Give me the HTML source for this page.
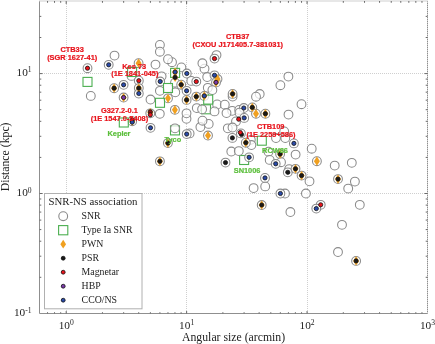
<!DOCTYPE html><html><head><meta charset="utf-8"><style>html,body{margin:0;padding:0;background:#fff;}svg{display:block;will-change:transform;}</style></head><body><svg width="435" height="344" viewBox="0 0 435 344">
<rect width="435" height="344" fill="#fff"/>
<line x1="66.5" y1="2" x2="66.5" y2="313" stroke="#cfcfcf" stroke-width="1" stroke-dasharray="1 1"/>
<line x1="186.5" y1="2" x2="186.5" y2="313" stroke="#cfcfcf" stroke-width="1" stroke-dasharray="1 1"/>
<line x1="307.5" y1="2" x2="307.5" y2="313" stroke="#cfcfcf" stroke-width="1" stroke-dasharray="1 1"/>
<line x1="40" y1="73.5" x2="427" y2="73.5" stroke="#cfcfcf" stroke-width="1" stroke-dasharray="1 1"/>
<line x1="40" y1="193.5" x2="427" y2="193.5" stroke="#cfcfcf" stroke-width="1" stroke-dasharray="1 1"/>
<rect x="170.50" y="125.90" width="9.0" height="9.0" fill="#fff" fill-opacity="0.7" stroke="#4caf50" stroke-width="1.1"/>
<rect x="201.50" y="104.80" width="9.0" height="9.0" fill="#fff" fill-opacity="0.7" stroke="#4caf50" stroke-width="1.1"/>
<rect x="239.60" y="155.50" width="9.0" height="9.0" fill="#fff" fill-opacity="0.7" stroke="#4caf50" stroke-width="1.1"/>
<circle cx="87.50" cy="68.20" r="4.4" fill="#fff" fill-opacity="0.7" stroke="#8a8a8a" stroke-width="1.05"/>
<circle cx="114.50" cy="55.60" r="4.4" fill="#fff" fill-opacity="0.7" stroke="#8a8a8a" stroke-width="1.05"/>
<circle cx="108.70" cy="64.80" r="4.4" fill="#fff" fill-opacity="0.7" stroke="#8a8a8a" stroke-width="1.05"/>
<circle cx="138.60" cy="63.20" r="4.4" fill="#fff" fill-opacity="0.7" stroke="#8a8a8a" stroke-width="1.05"/>
<circle cx="155.50" cy="64.60" r="4.4" fill="#fff" fill-opacity="0.7" stroke="#8a8a8a" stroke-width="1.05"/>
<circle cx="114.10" cy="88.20" r="4.4" fill="#fff" fill-opacity="0.7" stroke="#8a8a8a" stroke-width="1.05"/>
<circle cx="123.60" cy="84.80" r="4.4" fill="#fff" fill-opacity="0.7" stroke="#8a8a8a" stroke-width="1.05"/>
<circle cx="123.60" cy="97.50" r="4.4" fill="#fff" fill-opacity="0.7" stroke="#8a8a8a" stroke-width="1.05"/>
<circle cx="90.80" cy="95.90" r="4.4" fill="#fff" fill-opacity="0.7" stroke="#8a8a8a" stroke-width="1.05"/>
<circle cx="131.50" cy="75.90" r="4.4" fill="#fff" fill-opacity="0.7" stroke="#8a8a8a" stroke-width="1.05"/>
<circle cx="138.80" cy="80.70" r="4.4" fill="#fff" fill-opacity="0.7" stroke="#8a8a8a" stroke-width="1.05"/>
<circle cx="138.80" cy="88.10" r="4.4" fill="#fff" fill-opacity="0.7" stroke="#8a8a8a" stroke-width="1.05"/>
<circle cx="138.80" cy="93.50" r="4.4" fill="#fff" fill-opacity="0.7" stroke="#8a8a8a" stroke-width="1.05"/>
<circle cx="150.50" cy="99.50" r="4.4" fill="#fff" fill-opacity="0.7" stroke="#8a8a8a" stroke-width="1.05"/>
<circle cx="150.30" cy="113.30" r="4.4" fill="#fff" fill-opacity="0.7" stroke="#8a8a8a" stroke-width="1.05"/>
<circle cx="132.20" cy="121.20" r="4.4" fill="#fff" fill-opacity="0.7" stroke="#8a8a8a" stroke-width="1.05"/>
<circle cx="150.50" cy="127.80" r="4.4" fill="#fff" fill-opacity="0.7" stroke="#8a8a8a" stroke-width="1.05"/>
<circle cx="159.90" cy="44.90" r="4.4" fill="#fff" fill-opacity="0.7" stroke="#8a8a8a" stroke-width="1.05"/>
<circle cx="159.90" cy="51.70" r="4.4" fill="#fff" fill-opacity="0.7" stroke="#8a8a8a" stroke-width="1.05"/>
<circle cx="172.00" cy="62.20" r="4.4" fill="#fff" fill-opacity="0.7" stroke="#8a8a8a" stroke-width="1.05"/>
<circle cx="168.00" cy="59.20" r="4.4" fill="#fff" fill-opacity="0.7" stroke="#8a8a8a" stroke-width="1.05"/>
<circle cx="181.40" cy="67.40" r="4.4" fill="#fff" fill-opacity="0.7" stroke="#8a8a8a" stroke-width="1.05"/>
<circle cx="186.80" cy="73.50" r="4.4" fill="#fff" fill-opacity="0.7" stroke="#8a8a8a" stroke-width="1.05"/>
<circle cx="161.60" cy="76.30" r="4.4" fill="#fff" fill-opacity="0.7" stroke="#8a8a8a" stroke-width="1.05"/>
<circle cx="160.20" cy="81.50" r="4.4" fill="#fff" fill-opacity="0.7" stroke="#8a8a8a" stroke-width="1.05"/>
<circle cx="175.00" cy="82.70" r="4.4" fill="#fff" fill-opacity="0.7" stroke="#8a8a8a" stroke-width="1.05"/>
<circle cx="181.20" cy="84.70" r="4.4" fill="#fff" fill-opacity="0.7" stroke="#8a8a8a" stroke-width="1.05"/>
<circle cx="191.30" cy="80.90" r="4.4" fill="#fff" fill-opacity="0.7" stroke="#8a8a8a" stroke-width="1.05"/>
<circle cx="196.30" cy="81.60" r="4.4" fill="#fff" fill-opacity="0.7" stroke="#8a8a8a" stroke-width="1.05"/>
<circle cx="159.90" cy="90.80" r="4.4" fill="#fff" fill-opacity="0.7" stroke="#8a8a8a" stroke-width="1.05"/>
<circle cx="175.30" cy="92.30" r="4.4" fill="#fff" fill-opacity="0.7" stroke="#8a8a8a" stroke-width="1.05"/>
<circle cx="186.60" cy="90.80" r="4.4" fill="#fff" fill-opacity="0.7" stroke="#8a8a8a" stroke-width="1.05"/>
<circle cx="196.30" cy="96.60" r="4.4" fill="#fff" fill-opacity="0.7" stroke="#8a8a8a" stroke-width="1.05"/>
<circle cx="168.00" cy="98.30" r="4.4" fill="#fff" fill-opacity="0.7" stroke="#8a8a8a" stroke-width="1.05"/>
<circle cx="186.60" cy="99.90" r="4.4" fill="#fff" fill-opacity="0.7" stroke="#8a8a8a" stroke-width="1.05"/>
<circle cx="174.90" cy="109.80" r="4.4" fill="#fff" fill-opacity="0.7" stroke="#8a8a8a" stroke-width="1.05"/>
<circle cx="159.80" cy="113.80" r="4.4" fill="#fff" fill-opacity="0.7" stroke="#8a8a8a" stroke-width="1.05"/>
<circle cx="186.50" cy="118.80" r="4.4" fill="#fff" fill-opacity="0.7" stroke="#8a8a8a" stroke-width="1.05"/>
<circle cx="186.50" cy="113.30" r="4.4" fill="#fff" fill-opacity="0.7" stroke="#8a8a8a" stroke-width="1.05"/>
<circle cx="175.00" cy="128.30" r="4.4" fill="#fff" fill-opacity="0.7" stroke="#8a8a8a" stroke-width="1.05"/>
<circle cx="189.60" cy="133.40" r="4.4" fill="#fff" fill-opacity="0.7" stroke="#8a8a8a" stroke-width="1.05"/>
<circle cx="186.70" cy="134.10" r="4.4" fill="#fff" fill-opacity="0.7" stroke="#8a8a8a" stroke-width="1.05"/>
<circle cx="167.90" cy="143.10" r="4.4" fill="#fff" fill-opacity="0.7" stroke="#8a8a8a" stroke-width="1.05"/>
<circle cx="159.90" cy="161.30" r="4.4" fill="#fff" fill-opacity="0.7" stroke="#8a8a8a" stroke-width="1.05"/>
<circle cx="216.50" cy="55.10" r="4.4" fill="#fff" fill-opacity="0.7" stroke="#8a8a8a" stroke-width="1.05"/>
<circle cx="214.50" cy="58.60" r="4.4" fill="#fff" fill-opacity="0.7" stroke="#8a8a8a" stroke-width="1.05"/>
<circle cx="204.50" cy="68.70" r="4.4" fill="#fff" fill-opacity="0.7" stroke="#8a8a8a" stroke-width="1.05"/>
<circle cx="202.40" cy="63.30" r="4.4" fill="#fff" fill-opacity="0.7" stroke="#8a8a8a" stroke-width="1.05"/>
<circle cx="207.20" cy="77.00" r="4.4" fill="#fff" fill-opacity="0.7" stroke="#8a8a8a" stroke-width="1.05"/>
<circle cx="217.50" cy="79.00" r="4.4" fill="#fff" fill-opacity="0.7" stroke="#8a8a8a" stroke-width="1.05"/>
<circle cx="214.50" cy="75.30" r="4.4" fill="#fff" fill-opacity="0.7" stroke="#8a8a8a" stroke-width="1.05"/>
<circle cx="216.00" cy="82.40" r="4.4" fill="#fff" fill-opacity="0.7" stroke="#8a8a8a" stroke-width="1.05"/>
<circle cx="207.80" cy="87.80" r="4.4" fill="#fff" fill-opacity="0.7" stroke="#8a8a8a" stroke-width="1.05"/>
<circle cx="212.40" cy="90.10" r="4.4" fill="#fff" fill-opacity="0.7" stroke="#8a8a8a" stroke-width="1.05"/>
<circle cx="204.30" cy="95.90" r="4.4" fill="#fff" fill-opacity="0.7" stroke="#8a8a8a" stroke-width="1.05"/>
<circle cx="232.60" cy="96.60" r="4.4" fill="#fff" fill-opacity="0.7" stroke="#8a8a8a" stroke-width="1.05"/>
<circle cx="232.60" cy="93.90" r="4.4" fill="#fff" fill-opacity="0.7" stroke="#8a8a8a" stroke-width="1.05"/>
<circle cx="217.10" cy="104.40" r="4.4" fill="#fff" fill-opacity="0.7" stroke="#8a8a8a" stroke-width="1.05"/>
<circle cx="224.80" cy="104.70" r="4.4" fill="#fff" fill-opacity="0.7" stroke="#8a8a8a" stroke-width="1.05"/>
<circle cx="232.20" cy="110.80" r="4.4" fill="#fff" fill-opacity="0.7" stroke="#8a8a8a" stroke-width="1.05"/>
<circle cx="239.20" cy="109.90" r="4.4" fill="#fff" fill-opacity="0.7" stroke="#8a8a8a" stroke-width="1.05"/>
<circle cx="196.80" cy="108.10" r="4.4" fill="#fff" fill-opacity="0.7" stroke="#8a8a8a" stroke-width="1.05"/>
<circle cx="202.10" cy="109.30" r="4.4" fill="#fff" fill-opacity="0.7" stroke="#8a8a8a" stroke-width="1.05"/>
<circle cx="214.50" cy="111.40" r="4.4" fill="#fff" fill-opacity="0.7" stroke="#8a8a8a" stroke-width="1.05"/>
<circle cx="226.50" cy="113.00" r="4.4" fill="#fff" fill-opacity="0.7" stroke="#8a8a8a" stroke-width="1.05"/>
<circle cx="243.80" cy="108.00" r="4.4" fill="#fff" fill-opacity="0.7" stroke="#8a8a8a" stroke-width="1.05"/>
<circle cx="208.70" cy="123.90" r="4.4" fill="#fff" fill-opacity="0.7" stroke="#8a8a8a" stroke-width="1.05"/>
<circle cx="200.40" cy="127.00" r="4.4" fill="#fff" fill-opacity="0.7" stroke="#8a8a8a" stroke-width="1.05"/>
<circle cx="202.50" cy="120.70" r="4.4" fill="#fff" fill-opacity="0.7" stroke="#8a8a8a" stroke-width="1.05"/>
<circle cx="208.00" cy="135.50" r="4.4" fill="#fff" fill-opacity="0.7" stroke="#8a8a8a" stroke-width="1.05"/>
<circle cx="259.70" cy="94.00" r="4.4" fill="#fff" fill-opacity="0.7" stroke="#8a8a8a" stroke-width="1.05"/>
<circle cx="256.00" cy="96.70" r="4.4" fill="#fff" fill-opacity="0.7" stroke="#8a8a8a" stroke-width="1.05"/>
<circle cx="252.30" cy="107.40" r="4.4" fill="#fff" fill-opacity="0.7" stroke="#8a8a8a" stroke-width="1.05"/>
<circle cx="256.00" cy="113.70" r="4.4" fill="#fff" fill-opacity="0.7" stroke="#8a8a8a" stroke-width="1.05"/>
<circle cx="265.40" cy="113.70" r="4.4" fill="#fff" fill-opacity="0.7" stroke="#8a8a8a" stroke-width="1.05"/>
<circle cx="239.50" cy="112.70" r="4.4" fill="#fff" fill-opacity="0.7" stroke="#8a8a8a" stroke-width="1.05"/>
<circle cx="236.00" cy="121.40" r="4.4" fill="#fff" fill-opacity="0.7" stroke="#8a8a8a" stroke-width="1.05"/>
<circle cx="244.20" cy="117.90" r="4.4" fill="#fff" fill-opacity="0.7" stroke="#8a8a8a" stroke-width="1.05"/>
<circle cx="227.80" cy="128.30" r="4.4" fill="#fff" fill-opacity="0.7" stroke="#8a8a8a" stroke-width="1.05"/>
<circle cx="232.50" cy="127.50" r="4.4" fill="#fff" fill-opacity="0.7" stroke="#8a8a8a" stroke-width="1.05"/>
<circle cx="240.90" cy="133.40" r="4.4" fill="#fff" fill-opacity="0.7" stroke="#8a8a8a" stroke-width="1.05"/>
<circle cx="232.40" cy="137.90" r="4.4" fill="#fff" fill-opacity="0.7" stroke="#8a8a8a" stroke-width="1.05"/>
<circle cx="250.80" cy="139.80" r="4.4" fill="#fff" fill-opacity="0.7" stroke="#8a8a8a" stroke-width="1.05"/>
<circle cx="251.40" cy="145.00" r="4.4" fill="#fff" fill-opacity="0.7" stroke="#8a8a8a" stroke-width="1.05"/>
<circle cx="245.80" cy="142.70" r="4.4" fill="#fff" fill-opacity="0.7" stroke="#8a8a8a" stroke-width="1.05"/>
<circle cx="231.30" cy="151.50" r="4.4" fill="#fff" fill-opacity="0.7" stroke="#8a8a8a" stroke-width="1.05"/>
<circle cx="238.80" cy="151.10" r="4.4" fill="#fff" fill-opacity="0.7" stroke="#8a8a8a" stroke-width="1.05"/>
<circle cx="249.10" cy="157.30" r="4.4" fill="#fff" fill-opacity="0.7" stroke="#8a8a8a" stroke-width="1.05"/>
<circle cx="225.50" cy="162.60" r="4.4" fill="#fff" fill-opacity="0.7" stroke="#8a8a8a" stroke-width="1.05"/>
<circle cx="253.60" cy="188.10" r="4.4" fill="#fff" fill-opacity="0.7" stroke="#8a8a8a" stroke-width="1.05"/>
<circle cx="265.20" cy="186.40" r="4.4" fill="#fff" fill-opacity="0.7" stroke="#8a8a8a" stroke-width="1.05"/>
<circle cx="261.70" cy="205.00" r="4.4" fill="#fff" fill-opacity="0.7" stroke="#8a8a8a" stroke-width="1.05"/>
<circle cx="288.40" cy="76.60" r="4.4" fill="#fff" fill-opacity="0.7" stroke="#8a8a8a" stroke-width="1.05"/>
<circle cx="280.40" cy="85.20" r="4.4" fill="#fff" fill-opacity="0.7" stroke="#8a8a8a" stroke-width="1.05"/>
<circle cx="301.50" cy="104.20" r="4.4" fill="#fff" fill-opacity="0.7" stroke="#8a8a8a" stroke-width="1.05"/>
<circle cx="288.50" cy="114.60" r="4.4" fill="#fff" fill-opacity="0.7" stroke="#8a8a8a" stroke-width="1.05"/>
<circle cx="276.00" cy="138.00" r="4.4" fill="#fff" fill-opacity="0.7" stroke="#8a8a8a" stroke-width="1.05"/>
<circle cx="285.30" cy="138.00" r="4.4" fill="#fff" fill-opacity="0.7" stroke="#8a8a8a" stroke-width="1.05"/>
<circle cx="284.20" cy="131.40" r="4.4" fill="#fff" fill-opacity="0.7" stroke="#8a8a8a" stroke-width="1.05"/>
<circle cx="293.90" cy="143.40" r="4.4" fill="#fff" fill-opacity="0.7" stroke="#8a8a8a" stroke-width="1.05"/>
<circle cx="268.50" cy="151.70" r="4.4" fill="#fff" fill-opacity="0.7" stroke="#8a8a8a" stroke-width="1.05"/>
<circle cx="295.60" cy="154.60" r="4.4" fill="#fff" fill-opacity="0.7" stroke="#8a8a8a" stroke-width="1.05"/>
<circle cx="280.10" cy="154.10" r="4.4" fill="#fff" fill-opacity="0.7" stroke="#8a8a8a" stroke-width="1.05"/>
<circle cx="311.70" cy="148.70" r="4.4" fill="#fff" fill-opacity="0.7" stroke="#8a8a8a" stroke-width="1.05"/>
<circle cx="269.70" cy="159.90" r="4.4" fill="#fff" fill-opacity="0.7" stroke="#8a8a8a" stroke-width="1.05"/>
<circle cx="281.00" cy="162.20" r="4.4" fill="#fff" fill-opacity="0.7" stroke="#8a8a8a" stroke-width="1.05"/>
<circle cx="275.70" cy="163.80" r="4.4" fill="#fff" fill-opacity="0.7" stroke="#8a8a8a" stroke-width="1.05"/>
<circle cx="316.90" cy="161.20" r="4.4" fill="#fff" fill-opacity="0.7" stroke="#8a8a8a" stroke-width="1.05"/>
<circle cx="334.70" cy="165.60" r="4.4" fill="#fff" fill-opacity="0.7" stroke="#8a8a8a" stroke-width="1.05"/>
<circle cx="289.20" cy="169.10" r="4.4" fill="#fff" fill-opacity="0.7" stroke="#8a8a8a" stroke-width="1.05"/>
<circle cx="287.80" cy="172.30" r="4.4" fill="#fff" fill-opacity="0.7" stroke="#8a8a8a" stroke-width="1.05"/>
<circle cx="295.50" cy="168.80" r="4.4" fill="#fff" fill-opacity="0.7" stroke="#8a8a8a" stroke-width="1.05"/>
<circle cx="301.60" cy="175.60" r="4.4" fill="#fff" fill-opacity="0.7" stroke="#8a8a8a" stroke-width="1.05"/>
<circle cx="309.50" cy="181.30" r="4.4" fill="#fff" fill-opacity="0.7" stroke="#8a8a8a" stroke-width="1.05"/>
<circle cx="338.00" cy="179.10" r="4.4" fill="#fff" fill-opacity="0.7" stroke="#8a8a8a" stroke-width="1.05"/>
<circle cx="351.80" cy="162.80" r="4.4" fill="#fff" fill-opacity="0.7" stroke="#8a8a8a" stroke-width="1.05"/>
<circle cx="354.90" cy="181.60" r="4.4" fill="#fff" fill-opacity="0.7" stroke="#8a8a8a" stroke-width="1.05"/>
<circle cx="348.20" cy="188.60" r="4.4" fill="#fff" fill-opacity="0.7" stroke="#8a8a8a" stroke-width="1.05"/>
<circle cx="359.80" cy="204.80" r="4.4" fill="#fff" fill-opacity="0.7" stroke="#8a8a8a" stroke-width="1.05"/>
<circle cx="320.70" cy="204.80" r="4.4" fill="#fff" fill-opacity="0.7" stroke="#8a8a8a" stroke-width="1.05"/>
<circle cx="316.30" cy="208.60" r="4.4" fill="#fff" fill-opacity="0.7" stroke="#8a8a8a" stroke-width="1.05"/>
<circle cx="342.00" cy="224.80" r="4.4" fill="#fff" fill-opacity="0.7" stroke="#8a8a8a" stroke-width="1.05"/>
<circle cx="338.00" cy="252.00" r="4.4" fill="#fff" fill-opacity="0.7" stroke="#8a8a8a" stroke-width="1.05"/>
<circle cx="356.10" cy="260.90" r="4.4" fill="#fff" fill-opacity="0.7" stroke="#8a8a8a" stroke-width="1.05"/>
<circle cx="265.00" cy="177.90" r="4.4" fill="#fff" fill-opacity="0.7" stroke="#8a8a8a" stroke-width="1.05"/>
<circle cx="285.00" cy="193.50" r="4.4" fill="#fff" fill-opacity="0.7" stroke="#8a8a8a" stroke-width="1.05"/>
<circle cx="280.40" cy="193.50" r="4.4" fill="#fff" fill-opacity="0.7" stroke="#8a8a8a" stroke-width="1.05"/>
<circle cx="305.90" cy="193.50" r="4.4" fill="#fff" fill-opacity="0.7" stroke="#8a8a8a" stroke-width="1.05"/>
<circle cx="290.40" cy="212.00" r="4.4" fill="#fff" fill-opacity="0.7" stroke="#8a8a8a" stroke-width="1.05"/>
<rect x="83.00" y="77.40" width="9.0" height="9.0" fill="#fff" fill-opacity="0.7" stroke="#4caf50" stroke-width="1.1"/>
<rect x="127.60" y="67.50" width="9.0" height="9.0" fill="#fff" fill-opacity="0.7" stroke="#4caf50" stroke-width="1.1"/>
<rect x="119.30" y="118.00" width="9.0" height="9.0" fill="#fff" fill-opacity="0.7" stroke="#4caf50" stroke-width="1.1"/>
<rect x="170.60" y="68.40" width="9.0" height="9.0" fill="#fff" fill-opacity="0.7" stroke="#4caf50" stroke-width="1.1"/>
<rect x="163.50" y="83.50" width="9.0" height="9.0" fill="#fff" fill-opacity="0.7" stroke="#4caf50" stroke-width="1.1"/>
<rect x="155.50" y="98.30" width="9.0" height="9.0" fill="#fff" fill-opacity="0.7" stroke="#4caf50" stroke-width="1.1"/>
<rect x="203.70" y="95.10" width="9.0" height="9.0" fill="#fff" fill-opacity="0.7" stroke="#4caf50" stroke-width="1.1"/>
<rect x="257.30" y="136.20" width="9.0" height="9.0" fill="#fff" fill-opacity="0.7" stroke="#4caf50" stroke-width="1.1"/>
<path d="M138.60 58.60L141.60 63.20L138.60 67.80L135.60 63.20Z" fill="#f0a020"/>
<path d="M114.10 83.60L117.10 88.20L114.10 92.80L111.10 88.20Z" fill="#f0a020"/>
<path d="M123.60 92.90L126.60 97.50L123.60 102.10L120.60 97.50Z" fill="#f0a020"/>
<path d="M138.80 83.50L141.80 88.10L138.80 92.70L135.80 88.10Z" fill="#f0a020"/>
<path d="M150.30 107.90L153.30 112.50L150.30 117.10L147.30 112.50Z" fill="#f0a020"/>
<path d="M132.20 116.60L135.20 121.20L132.20 125.80L129.20 121.20Z" fill="#f0a020"/>
<path d="M175.10 72.80L178.10 77.40L175.10 82.00L172.10 77.40Z" fill="#f0a020"/>
<path d="M175.10 67.50L178.10 72.10L175.10 76.70L172.10 72.10Z" fill="#f0a020"/>
<path d="M181.20 80.10L184.20 84.70L181.20 89.30L178.20 84.70Z" fill="#f0a020"/>
<path d="M196.30 92.00L199.30 96.60L196.30 101.20L193.30 96.60Z" fill="#f0a020"/>
<path d="M168.00 93.70L171.00 98.30L168.00 102.90L165.00 98.30Z" fill="#f0a020"/>
<path d="M186.60 95.30L189.60 99.90L186.60 104.50L183.60 99.90Z" fill="#f0a020"/>
<path d="M174.90 105.20L177.90 109.80L174.90 114.40L171.90 109.80Z" fill="#f0a020"/>
<path d="M167.90 138.50L170.90 143.10L167.90 147.70L164.90 143.10Z" fill="#f0a020"/>
<path d="M159.90 156.70L162.90 161.30L159.90 165.90L156.90 161.30Z" fill="#f0a020"/>
<path d="M217.50 74.40L220.50 79.00L217.50 83.60L214.50 79.00Z" fill="#f0a020"/>
<path d="M216.00 77.80L219.00 82.40L216.00 87.00L213.00 82.40Z" fill="#f0a020"/>
<path d="M204.30 91.30L207.30 95.90L204.30 100.50L201.30 95.90Z" fill="#f0a020"/>
<path d="M232.60 89.30L235.60 93.90L232.60 98.50L229.60 93.90Z" fill="#f0a020"/>
<path d="M208.00 130.90L211.00 135.50L208.00 140.10L205.00 135.50Z" fill="#f0a020"/>
<path d="M252.30 102.80L255.30 107.40L252.30 112.00L249.30 107.40Z" fill="#f0a020"/>
<path d="M256.00 109.10L259.00 113.70L256.00 118.30L253.00 113.70Z" fill="#f0a020"/>
<path d="M265.40 109.10L268.40 113.70L265.40 118.30L262.40 113.70Z" fill="#f0a020"/>
<path d="M245.80 138.10L248.80 142.70L245.80 147.30L242.80 142.70Z" fill="#f0a020"/>
<path d="M261.70 200.40L264.70 205.00L261.70 209.60L258.70 205.00Z" fill="#f0a020"/>
<path d="M280.10 149.50L283.10 154.10L280.10 158.70L277.10 154.10Z" fill="#f0a020"/>
<path d="M316.90 156.60L319.90 161.20L316.90 165.80L313.90 161.20Z" fill="#f0a020"/>
<path d="M295.50 164.20L298.50 168.80L295.50 173.40L292.50 168.80Z" fill="#f0a020"/>
<path d="M301.60 171.00L304.60 175.60L301.60 180.20L298.60 175.60Z" fill="#f0a020"/>
<path d="M338.00 174.50L341.00 179.10L338.00 183.70L335.00 179.10Z" fill="#f0a020"/>
<path d="M356.10 256.30L359.10 260.90L356.10 265.50L353.10 260.90Z" fill="#f0a020"/>
<circle cx="87.50" cy="68.20" r="2.1" fill="#e8141c" stroke="#111" stroke-width="0.8"/>
<circle cx="108.70" cy="64.80" r="2.1" fill="#2a4aa8" stroke="#111" stroke-width="0.8"/>
<circle cx="114.10" cy="88.20" r="2.1" fill="#1a1a1a" stroke="#111" stroke-width="0.8"/>
<circle cx="123.60" cy="84.80" r="2.1" fill="#2a4aa8" stroke="#111" stroke-width="0.8"/>
<circle cx="123.60" cy="97.50" r="2.1" fill="#7a3aa8" stroke="#111" stroke-width="0.8"/>
<circle cx="138.80" cy="80.70" r="2.1" fill="#e8141c" stroke="#111" stroke-width="0.8"/>
<circle cx="138.80" cy="88.10" r="2.1" fill="#1a1a1a" stroke="#111" stroke-width="0.8"/>
<circle cx="138.80" cy="93.50" r="2.1" fill="#2a4aa8" stroke="#111" stroke-width="0.8"/>
<circle cx="150.30" cy="111.80" r="2.1" fill="#8a1414" stroke="#111" stroke-width="0.8"/>
<circle cx="150.30" cy="114.80" r="2.1" fill="#e8141c" stroke="#111" stroke-width="0.8"/>
<circle cx="132.20" cy="120.00" r="2.1" fill="#e8141c" stroke="#111" stroke-width="0.8"/>
<circle cx="132.20" cy="122.20" r="2.1" fill="#2a4aa8" stroke="#111" stroke-width="0.8"/>
<circle cx="150.50" cy="127.80" r="2.1" fill="#2a4aa8" stroke="#111" stroke-width="0.8"/>
<circle cx="175.10" cy="77.40" r="2.1" fill="#1a1a1a" stroke="#111" stroke-width="0.8"/>
<circle cx="175.10" cy="72.10" r="2.1" fill="#2a4aa8" stroke="#111" stroke-width="0.8"/>
<circle cx="186.80" cy="73.50" r="2.1" fill="#2a4aa8" stroke="#111" stroke-width="0.8"/>
<circle cx="160.20" cy="81.50" r="2.1" fill="#2a4aa8" stroke="#111" stroke-width="0.8"/>
<circle cx="181.20" cy="84.70" r="2.1" fill="#1a1a1a" stroke="#111" stroke-width="0.8"/>
<circle cx="196.30" cy="81.60" r="2.1" fill="#e8141c" stroke="#111" stroke-width="0.8"/>
<circle cx="186.60" cy="90.80" r="2.1" fill="#2a4aa8" stroke="#111" stroke-width="0.8"/>
<circle cx="196.30" cy="96.60" r="2.1" fill="#1a1a1a" stroke="#111" stroke-width="0.8"/>
<circle cx="186.60" cy="99.90" r="2.1" fill="#1a1a1a" stroke="#111" stroke-width="0.8"/>
<circle cx="186.70" cy="134.10" r="2.1" fill="#2a4aa8" stroke="#111" stroke-width="0.8"/>
<circle cx="167.90" cy="143.10" r="2.1" fill="#1a1a1a" stroke="#111" stroke-width="0.8"/>
<circle cx="159.90" cy="161.30" r="2.1" fill="#1a1a1a" stroke="#111" stroke-width="0.8"/>
<circle cx="214.50" cy="58.60" r="2.1" fill="#e8141c" stroke="#111" stroke-width="0.8"/>
<circle cx="214.50" cy="75.30" r="2.1" fill="#2a4aa8" stroke="#111" stroke-width="0.8"/>
<circle cx="216.00" cy="82.40" r="2.1" fill="#7a3aa8" stroke="#111" stroke-width="0.8"/>
<circle cx="204.30" cy="95.90" r="2.1" fill="#2a4aa8" stroke="#111" stroke-width="0.8"/>
<circle cx="232.60" cy="93.90" r="2.1" fill="#1a1a1a" stroke="#111" stroke-width="0.8"/>
<circle cx="243.80" cy="108.00" r="2.1" fill="#2a4aa8" stroke="#111" stroke-width="0.8"/>
<circle cx="252.30" cy="107.40" r="2.1" fill="#1a1a1a" stroke="#111" stroke-width="0.8"/>
<circle cx="265.40" cy="113.70" r="2.1" fill="#1a1a1a" stroke="#111" stroke-width="0.8"/>
<circle cx="244.20" cy="117.90" r="2.1" fill="#2a4aa8" stroke="#111" stroke-width="0.8"/>
<circle cx="238.70" cy="119.20" r="2.1" fill="#e8141c" stroke="#111" stroke-width="0.8"/>
<circle cx="241.50" cy="134.50" r="2.1" fill="#1a1a1a" stroke="#111" stroke-width="0.8"/>
<circle cx="240.30" cy="132.50" r="2.1" fill="#e8141c" stroke="#111" stroke-width="0.8"/>
<circle cx="232.40" cy="137.90" r="2.1" fill="#1a1a1a" stroke="#111" stroke-width="0.8"/>
<circle cx="245.80" cy="142.70" r="2.1" fill="#1a1a1a" stroke="#111" stroke-width="0.8"/>
<circle cx="249.10" cy="157.30" r="2.1" fill="#2a4aa8" stroke="#111" stroke-width="0.8"/>
<circle cx="225.50" cy="162.60" r="2.1" fill="#1a1a1a" stroke="#111" stroke-width="0.8"/>
<circle cx="261.70" cy="205.00" r="2.1" fill="#1a1a1a" stroke="#111" stroke-width="0.8"/>
<circle cx="293.90" cy="143.40" r="2.1" fill="#2a4aa8" stroke="#111" stroke-width="0.8"/>
<circle cx="280.10" cy="154.10" r="2.1" fill="#1a1a1a" stroke="#111" stroke-width="0.8"/>
<circle cx="275.70" cy="163.80" r="2.1" fill="#2a4aa8" stroke="#111" stroke-width="0.8"/>
<circle cx="287.80" cy="172.30" r="2.1" fill="#1a1a1a" stroke="#111" stroke-width="0.8"/>
<circle cx="295.50" cy="168.80" r="2.1" fill="#1a1a1a" stroke="#111" stroke-width="0.8"/>
<circle cx="301.60" cy="175.60" r="2.1" fill="#1a1a1a" stroke="#111" stroke-width="0.8"/>
<circle cx="338.00" cy="179.10" r="2.1" fill="#1a1a1a" stroke="#111" stroke-width="0.8"/>
<circle cx="320.70" cy="204.80" r="2.1" fill="#e8141c" stroke="#111" stroke-width="0.8"/>
<circle cx="316.30" cy="208.60" r="2.1" fill="#2a4aa8" stroke="#111" stroke-width="0.8"/>
<circle cx="356.10" cy="260.90" r="2.1" fill="#1a1a1a" stroke="#111" stroke-width="0.8"/>
<circle cx="265.00" cy="177.90" r="2.1" fill="#2a4aa8" stroke="#111" stroke-width="0.8"/>
<circle cx="280.40" cy="193.50" r="2.1" fill="#2a4aa8" stroke="#111" stroke-width="0.8"/>
<path d="M39.5 1V313.5H427.5V1" stroke="#8f8f8f" stroke-width="1" fill="none"/>
<path d="M39 1H428" stroke="#cfcfcf" stroke-width="1" fill="none"/>
<path d="M427.5 2V313" stroke="#cfcfcf" stroke-width="1" stroke-dasharray="1 1" fill="none"/>
<path d="M47.55 313.5V312.2M47.55 1V2.8M54.53 313.5V312.2M54.53 1V2.8M60.69 313.5V312.2M60.69 1V2.8M66.20 313.5V311.0M66.20 1V4.0M102.45 313.5V312.2M102.45 1V2.8M123.66 313.5V312.2M123.66 1V2.8M138.71 313.5V312.2M138.71 1V2.8M150.38 313.5V312.2M150.38 1V2.8M159.91 313.5V312.2M159.91 1V2.8M167.98 313.5V312.2M167.98 1V2.8M174.96 313.5V312.2M174.96 1V2.8M181.12 313.5V312.2M181.12 1V2.8M186.63 313.5V311.0M186.63 1V4.0M222.88 313.5V312.2M222.88 1V2.8M244.09 313.5V312.2M244.09 1V2.8M259.14 313.5V312.2M259.14 1V2.8M270.81 313.5V312.2M270.81 1V2.8M280.34 313.5V312.2M280.34 1V2.8M288.41 313.5V312.2M288.41 1V2.8M295.39 313.5V312.2M295.39 1V2.8M301.55 313.5V312.2M301.55 1V2.8M307.06 313.5V311.0M307.06 1V4.0M343.31 313.5V312.2M343.31 1V2.8M364.52 313.5V312.2M364.52 1V2.8M379.57 313.5V312.2M379.57 1V2.8M391.24 313.5V312.2M391.24 1V2.8M400.77 313.5V312.2M400.77 1V2.8M408.84 313.5V312.2M408.84 1V2.8M415.82 313.5V312.2M415.82 1V2.8M421.98 313.5V312.2M421.98 1V2.8M39.5 277.31H41.3M427.5 277.31H425.7M39.5 256.19H41.3M427.5 256.19H425.7M39.5 241.21H41.3M427.5 241.21H425.7M39.5 229.59H41.3M427.5 229.59H425.7M39.5 220.10H41.3M427.5 220.10H425.7M39.5 212.07H41.3M427.5 212.07H425.7M39.5 205.12H41.3M427.5 205.12H425.7M39.5 198.99H41.3M427.5 198.99H425.7M39.5 193.50H42.5M427.5 193.50H424.5M39.5 157.41H41.3M427.5 157.41H425.7M39.5 136.29H41.3M427.5 136.29H425.7M39.5 121.31H41.3M427.5 121.31H425.7M39.5 109.69H41.3M427.5 109.69H425.7M39.5 100.20H41.3M427.5 100.20H425.7M39.5 92.17H41.3M427.5 92.17H425.7M39.5 85.22H41.3M427.5 85.22H425.7M39.5 79.09H41.3M427.5 79.09H425.7M39.5 73.60H42.5M427.5 73.60H424.5M39.5 37.51H41.3M427.5 37.51H425.7M39.5 16.39H41.3M427.5 16.39H425.7" stroke="#6a6a6a" stroke-width="1" fill="none"/>
<text x="66.20" y="328.50" font-family="Liberation Serif, serif" font-size="11.3" fill="#222" text-anchor="middle">10<tspan font-size="7.6" dy="-3.6">0</tspan></text>
<text x="186.63" y="328.50" font-family="Liberation Serif, serif" font-size="11.3" fill="#222" text-anchor="middle">10<tspan font-size="7.6" dy="-3.6">1</tspan></text>
<text x="307.06" y="328.50" font-family="Liberation Serif, serif" font-size="11.3" fill="#222" text-anchor="middle">10<tspan font-size="7.6" dy="-3.6">2</tspan></text>
<text x="427.49" y="328.50" font-family="Liberation Serif, serif" font-size="11.3" fill="#222" text-anchor="middle">10<tspan font-size="7.6" dy="-3.6">3</tspan></text>
<text x="31.60" y="316.40" font-family="Liberation Serif, serif" font-size="11.3" fill="#222" text-anchor="end">10<tspan font-size="7.6" dy="-3.6">-1</tspan></text>
<text x="31.60" y="196.30" font-family="Liberation Serif, serif" font-size="11.3" fill="#222" text-anchor="end">10<tspan font-size="7.6" dy="-3.6">0</tspan></text>
<text x="31.60" y="75.80" font-family="Liberation Serif, serif" font-size="11.3" fill="#222" text-anchor="end">10<tspan font-size="7.6" dy="-3.6">1</tspan></text>
<text x="233.55" y="340.8" font-family="Liberation Serif, serif" font-size="11.75" fill="#222" text-anchor="middle">Angular size (arcmin)</text>
<text transform="translate(9.0,156.9) rotate(-90)" x="0" y="0" font-family="Liberation Serif, serif" font-size="11.75" fill="#222" text-anchor="middle">Distance (kpc)</text>
<text x="72.10" y="52.40" font-family="Liberation Sans, sans-serif" font-weight="bold" font-size="7.4" fill="#e8141c" stroke="#e8141c" stroke-width="0.22" text-anchor="middle">CTB33</text>
<text x="72.20" y="60.00" font-family="Liberation Sans, sans-serif" font-weight="bold" font-size="7.4" fill="#e8141c" stroke="#e8141c" stroke-width="0.22" text-anchor="middle">(SGR 1627-41)</text>
<text x="237.70" y="39.00" font-family="Liberation Sans, sans-serif" font-weight="bold" font-size="7.4" fill="#e8141c" stroke="#e8141c" stroke-width="0.22" text-anchor="middle">CTB37</text>
<text x="237.80" y="46.60" font-family="Liberation Sans, sans-serif" font-weight="bold" font-size="7.4" fill="#e8141c" stroke="#e8141c" stroke-width="0.22" text-anchor="middle">(CXOU J171405.7-381031)</text>
<text x="134.20" y="68.60" font-family="Liberation Sans, sans-serif" font-weight="bold" font-size="7.4" fill="#e8141c" stroke="#e8141c" stroke-width="0.22" text-anchor="middle">Kes 73</text>
<text x="134.80" y="76.20" font-family="Liberation Sans, sans-serif" font-weight="bold" font-size="7.4" fill="#e8141c" stroke="#e8141c" stroke-width="0.22" text-anchor="middle">(1E 1841-045)</text>
<text x="119.40" y="112.80" font-family="Liberation Sans, sans-serif" font-weight="bold" font-size="7.4" fill="#e8141c" stroke="#e8141c" stroke-width="0.22" text-anchor="middle">G327.2-0.1</text>
<text x="119.45" y="120.90" font-family="Liberation Sans, sans-serif" font-weight="bold" font-size="7.4" fill="#e8141c" stroke="#e8141c" stroke-width="0.22" text-anchor="middle">(1E 1547.0-5408)</text>
<text x="270.70" y="128.80" font-family="Liberation Sans, sans-serif" font-weight="bold" font-size="7.4" fill="#e8141c" stroke="#e8141c" stroke-width="0.22" text-anchor="middle">CTB109</text>
<text x="271.00" y="136.60" font-family="Liberation Sans, sans-serif" font-weight="bold" font-size="7.4" fill="#e8141c" stroke="#e8141c" stroke-width="0.22" text-anchor="middle">(1E 2259+586)</text>
<text x="119.00" y="135.60" font-family="Liberation Sans, sans-serif" font-weight="bold" font-size="7.4" fill="#5cbf3c" stroke="#5cbf3c" stroke-width="0.22" text-anchor="middle">Kepler</text>
<text x="172.90" y="142.40" font-family="Liberation Sans, sans-serif" font-weight="bold" font-size="7.4" fill="#5cbf3c" stroke="#5cbf3c" stroke-width="0.22" text-anchor="middle">Tyco</text>
<text x="275.00" y="152.90" font-family="Liberation Sans, sans-serif" font-weight="bold" font-size="7.4" fill="#5cbf3c" stroke="#5cbf3c" stroke-width="0.22" text-anchor="middle">RCW86</text>
<text x="247.10" y="173.40" font-family="Liberation Sans, sans-serif" font-weight="bold" font-size="7.4" fill="#5cbf3c" stroke="#5cbf3c" stroke-width="0.22" text-anchor="middle">SN1006</text>
<rect x="44.5" y="193.5" width="97.5" height="115.3" fill="#fff" stroke="#b0b0b0" stroke-width="1"/>
<text x="48.4" y="205.2" font-family="Liberation Serif, serif" font-size="10.8" fill="#222">SNR-NS association</text>
<circle cx="63.2" cy="216.2" r="4.4" fill="none" stroke="#8a8a8a" stroke-width="1.1"/>
<text x="81.6" y="219.40" font-family="Liberation Serif, serif" font-size="9.8" fill="#222">SNR</text>
<rect x="58.6" y="225.6" width="9.2" height="9.2" fill="none" stroke="#4caf50" stroke-width="1.1"/>
<text x="81.6" y="233.40" font-family="Liberation Serif, serif" font-size="9.8" fill="#222">Type Ia SNR</text>
<path d="M63.20 239.85L66.05 244.20L63.20 248.55L60.35 244.20Z" fill="#f0a020"/>
<text x="81.6" y="247.40" font-family="Liberation Serif, serif" font-size="9.8" fill="#222">PWN</text>
<circle cx="63.20" cy="258.20" r="1.95" fill="#1a1a1a" stroke="#111" stroke-width="0.8"/>
<text x="81.6" y="261.40" font-family="Liberation Serif, serif" font-size="9.8" fill="#222">PSR</text>
<circle cx="63.20" cy="272.20" r="1.95" fill="#e8141c" stroke="#111" stroke-width="0.8"/>
<text x="81.6" y="275.40" font-family="Liberation Serif, serif" font-size="9.8" fill="#222">Magnetar</text>
<circle cx="63.20" cy="286.20" r="1.95" fill="#7a3aa8" stroke="#111" stroke-width="0.8"/>
<text x="81.6" y="289.40" font-family="Liberation Serif, serif" font-size="9.8" fill="#222">HBP</text>
<circle cx="63.20" cy="300.20" r="1.95" fill="#2a4aa8" stroke="#111" stroke-width="0.8"/>
<text x="81.6" y="303.40" font-family="Liberation Serif, serif" font-size="9.8" fill="#222">CCO/NS</text>
</svg></body></html>
